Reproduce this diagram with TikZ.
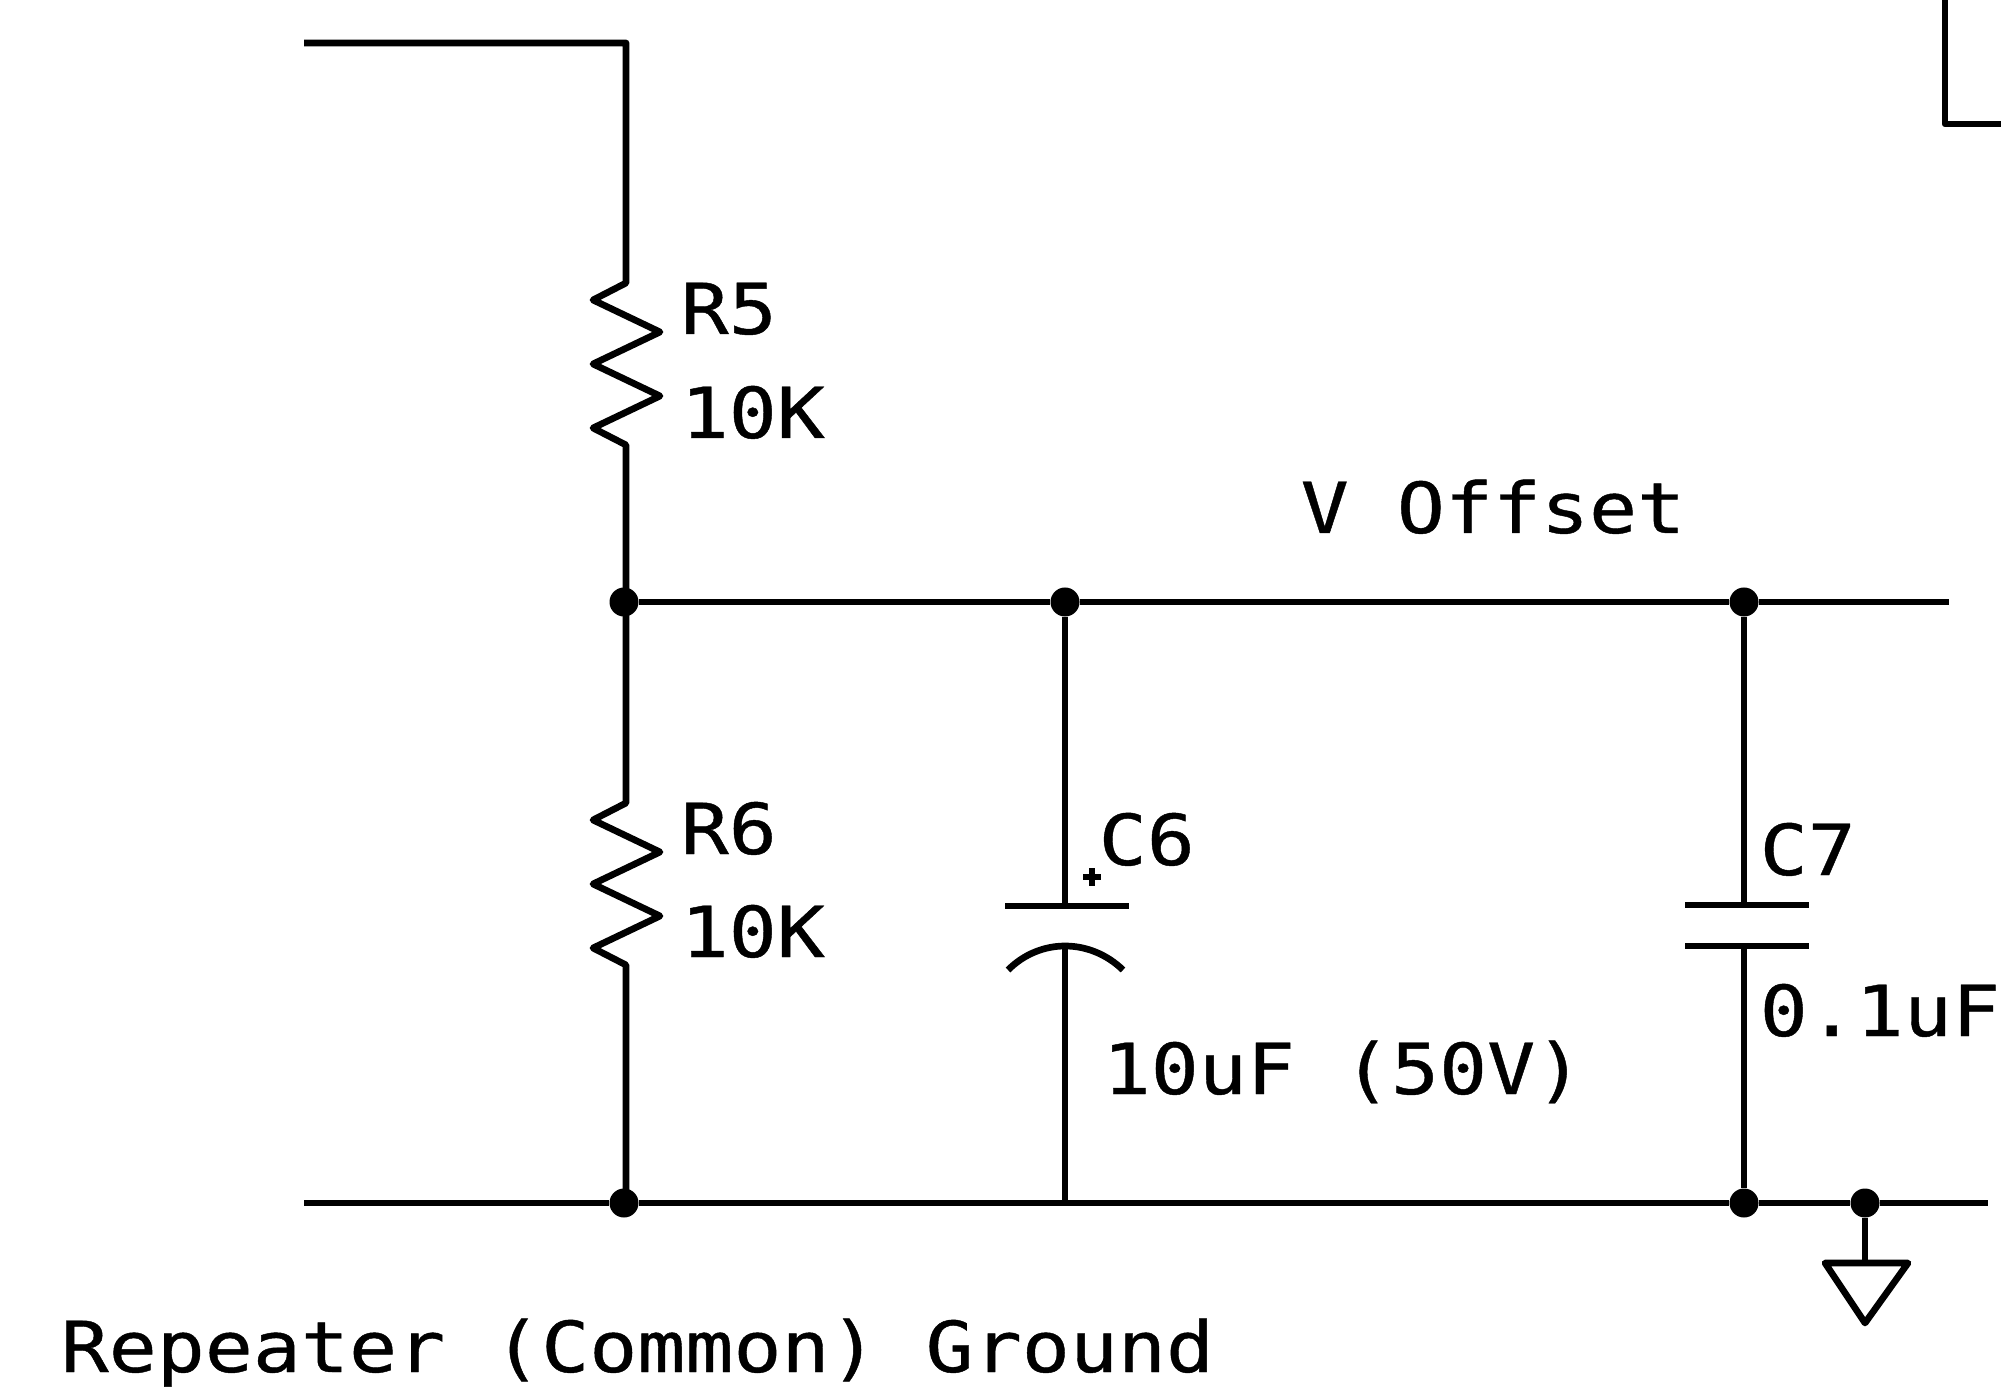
\documentclass[tikz,border=0pt]{standalone}
\usepackage{fontspec}
\newfontfamily\schfont[FakeStretch=1.135,FakeBold=0.6]{DejaVu Sans Mono}
\usetikzlibrary{positioning}

\tikzset{
  wire/.style={line width=1.9pt, line join=round},
  dot/.style={circle, fill=black, inner sep=0pt, minimum size=0.29cm},
  lbl/.style={font=\schfont\fontsize{20}{24}\selectfont, anchor=base west, inner sep=0pt}
}

\begin{document}
\begin{tikzpicture}[x=0.01cm, y=-0.01cm]
\useasboundingbox (0,0) rectangle (2001,1392);

% junctions
\node[dot] (j1) at (624,602) {};
\node[dot] (j2) at (1065,602) {};
\node[dot] (j3) at (1744,602) {};
\node[dot] (g1) at (624,1203) {};
\node[dot] (g2) at (1744,1203) {};
\node[dot] (g3) at (1865,1203) {};

% free wire ends
\coordinate (top_l) at (304,43);
\coordinate (top_r) at (626,43);
\coordinate (off_r) at (1949,602);
\coordinate (gnd_l) at (304,1203);
\coordinate (gnd_r) at (1988,1203);
\coordinate (g6) at (1065,1203);

% R5
\coordinate (r5_t) at (626,283);
\coordinate (r5_b) at (626,445);
\draw[wire] (top_l) -- (top_r) -- (r5_t) -- ++(-33,17) -- ++(67,32) -- ++(-67,32) -- ++(67,32) -- ++(-67,32) -- (r5_b) -- (r5_b |- j1);

% R6
\coordinate (r6_t) at (626,803);
\coordinate (r6_b) at (626,965);
\draw[wire] (r6_t |- j1) -- (r6_t) -- ++(-33,17) -- ++(67,32) -- ++(-67,32) -- ++(67,32) -- ++(-67,32) -- (r6_b) -- (r6_b |- g1);

% rails
\draw[wire] (j1) -- (j2);
\draw[wire] (j2) -- (j3);
\draw[wire] (j3) -- (off_r);
\draw[wire] (gnd_l) -- (g1);
\draw[wire] (g1) -- (g2);
\draw[wire] (g2) -- (g3);
\draw[wire] (g3) -- (gnd_r);

% C6
\coordinate (c6_p) at (1065,906);
\coordinate (c6_n) at (1065,944);
\draw[wire] (j2) -- (c6_p);
\draw[wire] (1005,906) -- (1129,906);
\draw[wire] (1008,970) .. controls (1040,938) and (1090,938) .. (1123,970);
\draw[wire] (c6_n) -- (g6);
\draw[line width=1.6pt] (1083,877) -- (1101,877) (1092,868) -- (1092,886);

% C7
\coordinate (c7_p) at (1744,905);
\coordinate (c7_n) at (1744,946);
\draw[wire] (j3) -- (c7_p);
\draw[wire] (1685,905) -- (1809,905);
\draw[wire] (1685,946) -- (1809,946);
\draw[wire] (c7_n) -- (g2);

% ground symbol
\coordinate (g_t) at (1865,1263);
\draw[wire] (g3) -- (g_t);
\draw[wire] (1825,1263) -- (1908,1263) -- (1865,1323) -- cycle;

% corner of the next part
\coordinate (box_t) at (1945,0);
\coordinate (box_c) at (1945,124);
\coordinate (box_r) at (2001,124);
\draw[wire] (box_t) -- (box_c) -- (box_r);

% labels
\node[lbl] (r5) at (680,334) {R5};
\node[lbl] (r5v) at (680,438) {10K};
\node[lbl] (r6) at (680,854) {R6};
\node[lbl] (r6v) at (680,957) {10K};
\node[lbl] (c6) at (1098,865) {C6};
\node[lbl] (c6v) at (1102,1094) {10uF (50V)};
\node[lbl] (c7) at (1759,875) {C7};
\node[lbl] (c7v) at (1759,1036) {0.1uF};
\node[lbl] (voff) at (1300,533) {V Offset};
\node[lbl] (rgnd) at (60,1372) {Repeater (Common) Ground};
\end{tikzpicture}
\end{document}
